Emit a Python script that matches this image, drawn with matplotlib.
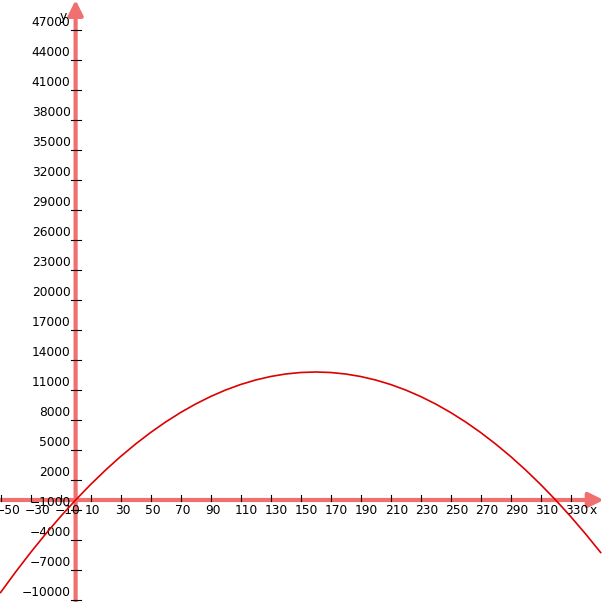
import numpy as np
import matplotlib
matplotlib.use("Agg")
import matplotlib.pyplot as plt

# curve points
x_vals = [-50, -40, -30, -20, -10, 0, 10, 20, 30, 40, 50, 60, 70, 80, 90, 100,
          110, 120, 130, 140, 150, 160, 170, 180, 190, 200, 210, 220, 230, 240,
          250, 260, 270, 280, 290, 300, 310, 320, 330, 340, 350]
y_vals = [-9250, -7200, -5250, -3400, -1650, 0, 1550, 3000, 4350, 5600, 6750,
          7800, 8750, 9600, 10350, 11000, 11550, 12000, 12350, 12600, 12750,
          12800, 12750, 12600, 12350, 12000, 11550, 11000, 10350, 9600, 8750,
          7800, 6750, 5600, 4350, 3000, 1550, 0, -1650, -3400, -5250]

x_ticks = list(range(-50, 331, 20))
y_ticks = list(range(-10000, 47001, 3000))

axis_col = '#f07070'
curve_col = '#dd0000'

fig = plt.figure(figsize=(6.08, 6.02), dpi=100)
ax = fig.add_axes([0, 0, 1, 1])
ax.set_xlim(-50.4, 354.9)
ax.set_ylim(-10200, 50000)
ax.axis('off')

# axes with arrows
ax.annotate('', xy=(352, 0), xytext=(-51, 0),
            arrowprops=dict(arrowstyle='-|>', color=axis_col, lw=3,
                            mutation_scale=22, shrinkA=0, shrinkB=0))
ax.annotate('', xy=(0, 50000), xytext=(0, -10300),
            arrowprops=dict(arrowstyle='-|>', color=axis_col, lw=3,
                            mutation_scale=22, shrinkA=0, shrinkB=0))

# tick marks (pixel offsets converted to data units)
dx = 1 / 1.5     # data units per pixel in x
dy = 100.0       # data units per pixel in y
for t in x_ticks:
    ax.plot([t, t], [-1 * dy, 5 * dy], color='black', lw=0.8, zorder=3)
    lab = str(t).replace('-', '\u2212')
    ax.text(t - 5.7 * dx, -4.5 * dy, lab, ha='left', va='top',
            fontsize=8.8, color='black', zorder=4)
for t in y_ticks:
    ax.plot([-5 * dx, 5 * dx], [t, t], color='black', lw=0.8, zorder=3)
    lab = str(t).replace('-', '\u2212')
    ax.text(-5 * dx, t + 1 * dy, lab, ha='right', va='bottom',
            fontsize=8.8, color='black', zorder=4)

ax.text(330 + 18.5 * dx, -4.5 * dy, 'x', ha='left', va='top', fontsize=8.8)
ax.text(-9 * dx, 50000 - 10 * dy, 'y', ha='right', va='top', fontsize=8.8)

ax.plot(x_vals, y_vals, color=curve_col, lw=1.2, zorder=5)

fig.savefig('out.png', dpi=100)
